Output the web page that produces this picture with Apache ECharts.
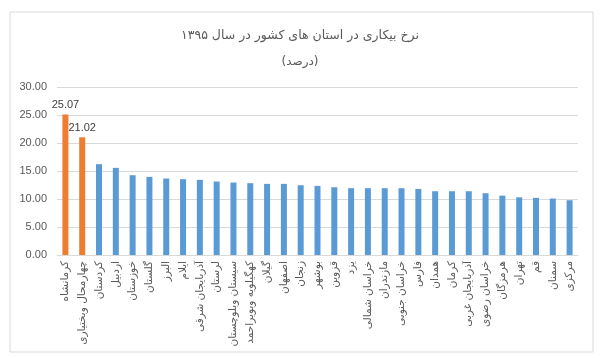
<!DOCTYPE html>
<html><head><meta charset="utf-8">
<script src="https://cdn.jsdelivr.net/npm/echarts@6/dist/echarts.min.js"></script>
<style>html,body{margin:0;padding:0;background:#fff}#c{width:600px;height:358px}</style>
</head><body><div id="c"></div>
<script>
const categories = ['کرمانشاه','چهارمحال وبختیاری','کردستان','اردبیل','خوزستان','گلستان','البرز','ایلام','آذربایجان شرقی','لرستان','سیستان وبلوچستان','کهگیلویه وبویراحمد','گیلان','اصفهان','زنجان','بوشهر','قزوین','یزد','خراسان شمالی','مازندران','خراسان جنوبی','فارس','همدان','کرمان','آذربایجان غربی','خراسان رضوی','هرمزگان','تهران','قم','سمنان','مرکزی'];
const values = [25.07,21.02,16.22,15.56,14.25,13.95,13.66,13.54,13.42,13.12,12.94,12.82,12.70,12.70,12.46,12.34,12.10,11.93,11.93,11.93,11.93,11.80,11.39,11.39,11.39,11.03,10.60,10.30,10.20,10.08,9.78];
const highlighted = [0,1];
const yTicks = [0,5,10,15,20,25,30];
const titleText = 'نرخ بیکاری در استان های کشور در سال ۱۳۹۵';
const subtitleText = '(درصد)';

const FONT = '"DejaVu Sans", sans-serif';
const NUMFONT = '"Liberation Sans", Arial, sans-serif';
const chart = echarts.init(document.getElementById('c'), null, {renderer:'canvas'});
chart.setOption({
  animation:false,
  backgroundColor:'#fff',
  graphic:[
    {type:'rect',shape:{x:10,y:12,width:583,height:340},style:{fill:'none',stroke:'#d9d9d9',lineWidth:1},silent:true},
    {type:'text',left:'center',top:29,style:{text:titleText,font:'12.5px "DejaVu Sans", sans-serif',fill:'#595959'},silent:true},
    {type:'text',left:'center',top:56,style:{text:subtitleText,font:'12px "DejaVu Sans", sans-serif',fill:'#595959'},silent:true}
  ],
  grid:{left:57,right:22,top:87,bottom:103,containLabel:false},
  xAxis:{type:'category',data:categories,
    axisLine:{lineStyle:{color:'#d9d9d9'}},axisTick:{show:false},
    axisLabel:{rotate:90,interval:0,margin:6,fontFamily:FONT,fontSize:10.5,color:'#595959'}},
  yAxis:{type:'value',min:yTicks[0],max:yTicks[yTicks.length-1],interval:5,
    axisLine:{show:false},axisTick:{show:false},
    splitLine:{lineStyle:{color:'#d9d9d9'}},
    axisLabel:{margin:10,fontFamily:NUMFONT,fontSize:11,color:'#595959',formatter:v=>v.toFixed(2)}},
  series:[{type:'bar',barWidth:6,
    data:values.map((v,i)=>{
      const h = highlighted.includes(i);
      return {value:v,itemStyle:{color:h?'#ED7D31':'#5B9BD5'},
        label:{show:h,position:'top',distance:4,formatter:p=>p.value.toFixed(2),fontFamily:NUMFONT,fontSize:11,color:'#404040'}};
    })}]
});
</script></body></html>
